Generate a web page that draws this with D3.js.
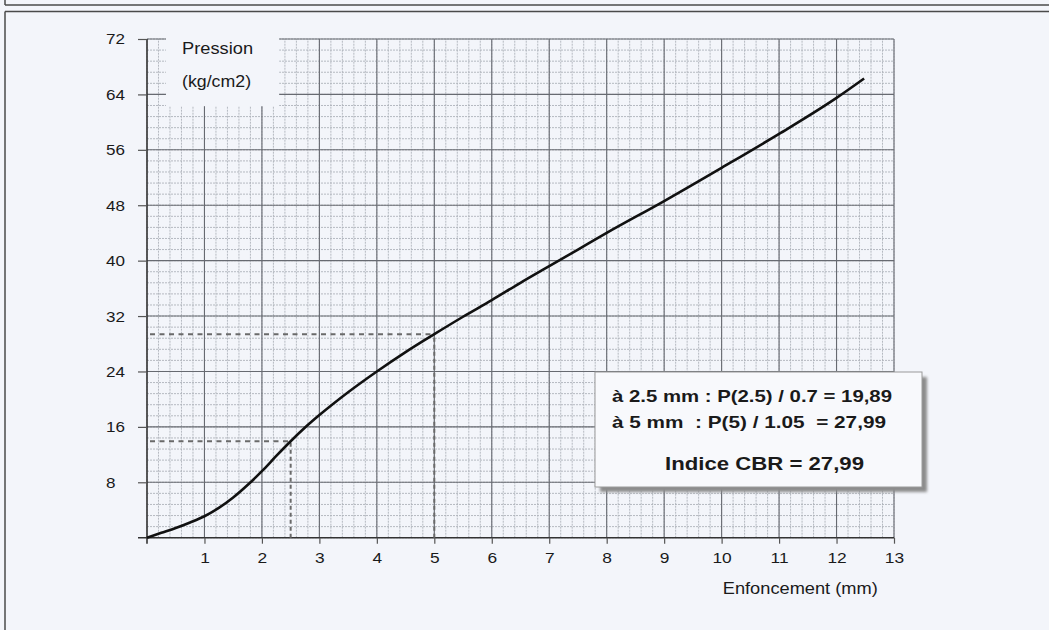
<!DOCTYPE html>
<html>
<head>
<meta charset="utf-8">
<script src="https://cdn.jsdelivr.net/npm/d3@7/dist/d3.min.js"></script>
<style>
  html, body { margin: 0; padding: 0; background: #f3f5fa; }
  svg { display: block; font-family: "Liberation Sans", Arial, sans-serif; }
</style>
</head>
<body>
<svg id="chart" width="1049" height="630"></svg>
<script>
// CBR test: penetration (mm) vs pressure (kg/cm2)
const depth    = [0, 0.25, 0.5, 0.75, 1, 1.25, 1.5, 1.75, 2, 2.25, 2.5, 2.75, 3, 3.5, 4, 4.5, 5, 5.5, 6, 6.5, 7, 7.5, 8, 9, 10, 11, 12, 12.48];
const pressure = [0, 0.7, 1.4, 2.2, 3.1, 4.3, 5.8, 7.6, 9.6, 11.8, 13.92, 15.9, 17.7, 21.0, 24.0, 26.8, 29.39, 31.9, 34.3, 36.8, 39.2, 41.6, 44.0, 48.6, 53.4, 58.3, 63.5, 66.3];

// reading points used for the CBR index
const readDepth    = [2.5, 5];
const readPressure = [13.92, 29.39];

const xTicks = [1, 2, 3, 4, 5, 6, 7, 8, 9, 10, 11, 12, 13];
const yTicks = [8, 16, 24, 32, 40, 48, 56, 64, 72];

const yTitle = ["Pression", "(kg/cm2)"];
const xTitle = "Enfoncement (mm)";
const noteLines = [
  "à 2.5 mm : P(2.5) / 0.7 = 19,89",
  "à 5 mm  : P(5) / 1.05  = 27,99"
];
const noteResult = "Indice CBR = 27,99";

const svg = d3.select("#chart");
const x = d3.scaleLinear().domain([0, 13]).range([147, 894]);
const y = d3.scaleLinear().domain([0, 72]).range([537.7, 39]);

// page frame
const frame = svg.append("g").attr("stroke", "#4a4a4a").attr("fill", "none");
frame.append("line").attr("x1", 5).attr("x2", 1049).attr("y1", 5).attr("y2", 5).attr("stroke-width", 1.5);
frame.append("line").attr("x1", 5).attr("x2", 5).attr("y1", 0).attr("y2", 5).attr("stroke-width", 1.5);
frame.append("line").attr("x1", 5).attr("x2", 1049).attr("y1", 11.5).attr("y2", 11.5).attr("stroke-width", 1.5);
frame.append("line").attr("x1", 5).attr("x2", 5).attr("y1", 11.5).attr("y2", 630).attr("stroke-width", 1.5);

// minor grid (0.2 mm / 1.6 kg/cm2)
const minorX = d3.range(0, 66).map(i => i / 5);
const minorY = d3.range(0, 46).map(i => i * 1.6);
const grid = svg.append("g");
grid.selectAll(".mx").data(minorX).join("line")
  .attr("x1", d => x(d)).attr("x2", d => x(d))
  .attr("y1", y(0)).attr("y2", y(72))
  .attr("stroke", "#aeb2ba").attr("stroke-width", 0.9).attr("stroke-dasharray", "2,1");
grid.selectAll(".my").data(minorY).join("line")
  .attr("y1", d => y(d)).attr("y2", d => y(d))
  .attr("x1", x(0)).attr("x2", x(13))
  .attr("stroke", "#aeb2ba").attr("stroke-width", 0.9).attr("stroke-dasharray", "2,1");

// major grid
grid.selectAll(".Mx").data(xTicks).join("line")
  .attr("x1", d => x(d)).attr("x2", d => x(d))
  .attr("y1", y(0)).attr("y2", y(72))
  .attr("stroke", "#676a71").attr("stroke-width", 1.1);
grid.selectAll(".My").data(yTicks).join("line")
  .attr("y1", d => y(d)).attr("y2", d => y(d))
  .attr("x1", x(0)).attr("x2", x(13))
  .attr("stroke", "#676a71").attr("stroke-width", 1.1);

// label area for the y title (masks the grid)
svg.append("rect")
  .attr("x", x(0.33)).attr("y", y(72) - 6)
  .attr("width", x(2.3) - x(0.33)).attr("height", y(62.3) - y(72) + 6)
  .attr("fill", "#f3f5fa");

// slightly wide tick lettering
function widen(sel, k) {
  sel.each(function () {
    const w = this.getComputedTextLength();
    d3.select(this).attr("textLength", w * k).attr("lengthAdjust", "spacingAndGlyphs");
  });
}

// axes
const yAxis = d3.axisLeft(y).tickValues(yTicks).tickSize(9).tickPadding(0).tickFormat(d3.format("d"));
const gy = svg.append("g").attr("transform", `translate(${x(0)},0)`).call(yAxis);
gy.select(".domain").attr("stroke", "#333").attr("stroke-width", 1.6).attr("d", `M0,${y(0) + 6}V${y(72)}`);
gy.selectAll(".tick line").attr("stroke", "#555").attr("stroke-width", 1.2);
gy.selectAll(".tick text").attr("text-anchor", "start").attr("x", 106 - x(0))
  .attr("font-size", 15.5).attr("fill", "#1a1a1a").attr("font-family", "Liberation Sans, Arial, sans-serif")
  .call(widen, 1.1);

const xAxis = d3.axisBottom(x).tickValues(xTicks).tickSize(6).tickPadding(8).tickFormat(d3.format("d"));
const gx = svg.append("g").attr("transform", `translate(0,${y(0)})`).call(xAxis);
gx.select(".domain").attr("stroke", "#333").attr("stroke-width", 1.6).attr("d", `M${x(0) - 9},0H${x(13)}`);
gx.selectAll(".tick line").attr("stroke", "#555").attr("stroke-width", 1.2);
gx.selectAll(".tick text").attr("font-size", 15.5).attr("fill", "#1a1a1a")
  .attr("font-family", "Liberation Sans, Arial, sans-serif")
  .call(widen, 1.12);

// axis titles
const yTitleWidth = [71, 69];
svg.append("g").selectAll("text").data(yTitle).join("text")
  .attr("x", x(0.61)).attr("y", (d, i) => y(72) + 14.5 + i * 33)
  .attr("font-size", 16.5).attr("fill", "#1a1a1a")
  .attr("textLength", (d, i) => yTitleWidth[i]).attr("lengthAdjust", "spacingAndGlyphs")
  .text(d => d);
svg.append("text").attr("x", x(10.02)).attr("y", 594)
  .attr("font-size", 17).attr("fill", "#1a1a1a")
  .attr("textLength", 155).attr("lengthAdjust", "spacingAndGlyphs").text(xTitle);

// reading guides
const guides = svg.append("g").attr("stroke", "#6a6a6a").attr("fill", "none").attr("stroke-width", 2);
readDepth.forEach((d, i) => {
  guides.append("line")
    .attr("x1", x(0) + 3).attr("x2", x(d)).attr("y1", y(readPressure[i])).attr("y2", y(readPressure[i]))
    .attr("stroke-dasharray", "5,4.5");
  guides.append("line")
    .attr("x1", x(d)).attr("x2", x(d)).attr("y1", y(0)).attr("y2", y(readPressure[i]))
    .attr("stroke-dasharray", "4,3");
});

// curve
const line = d3.line().x((d, i) => x(depth[i])).y(d => y(d)).curve(d3.curveMonotoneX);
svg.append("path").datum(pressure).attr("d", line)
  .attr("fill", "none").attr("stroke", "#111").attr("stroke-width", 2.6).attr("stroke-linejoin", "round");

// result box
const defs = svg.append("defs");
defs.append("filter").attr("id", "soft").append("feGaussianBlur").attr("stdDeviation", 1.8);
const bx = 595, by = 372, bw = 327, bh = 115;
svg.append("rect").attr("x", bx + 5).attr("y", by + 5).attr("width", bw).attr("height", bh)
  .attr("fill", "#8c8c8c").attr("filter", "url(#soft)");
svg.append("rect").attr("x", bx).attr("y", by).attr("width", bw).attr("height", bh)
  .attr("fill", "#f8f9fc").attr("stroke", "#9a9a9a").attr("stroke-width", 1);
const noteWidth = [280, 274];
svg.append("g").selectAll("text").data(noteLines).join("text")
  .attr("x", 612).attr("y", (d, i) => 402 + i * 26)
  .attr("font-size", 16.5).attr("font-weight", "bold").attr("fill", "#1a1a1a")
  .attr("textLength", (d, i) => noteWidth[i]).attr("lengthAdjust", "spacingAndGlyphs")
  .style("white-space", "pre").text(d => d);
svg.append("text").attr("x", 665).attr("y", 470)
  .attr("font-size", 18.5).attr("font-weight", "bold").attr("fill", "#1a1a1a")
  .attr("textLength", 199).attr("lengthAdjust", "spacingAndGlyphs").text(noteResult);
</script>
</body>
</html>
